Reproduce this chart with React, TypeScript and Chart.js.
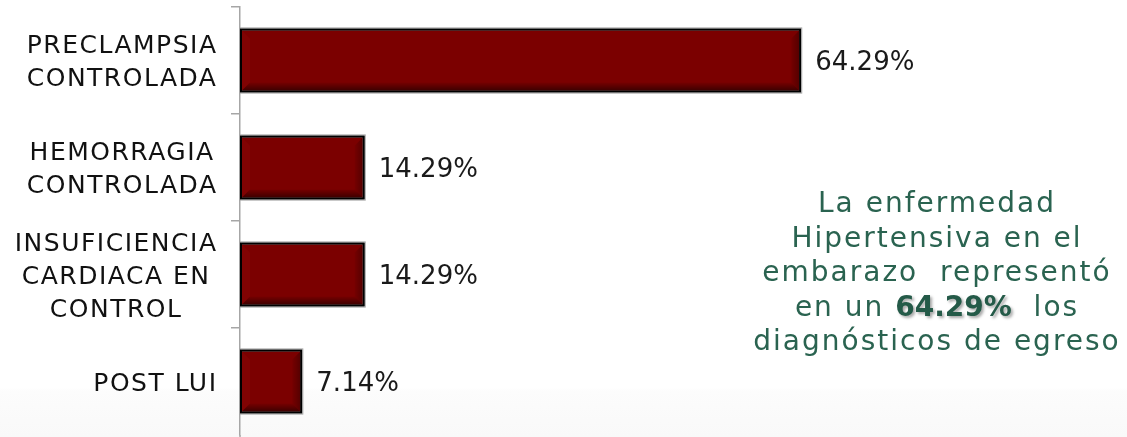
import React, { useEffect, useRef } from "react";
import { Chart, registerables } from "chart.js";

Chart.register(...registerables);

const categories: string[][] = [
  ["PRECLAMPSIA", "CONTROLADA"],
  ["HEMORRAGIA", "CONTROLADA"],
  ["INSUFICIENCIA", "CARDIACA EN", "CONTROL"],
  ["POST LUI"],
];
const values: number[] = [64.29, 14.29, 14.29, 7.14];
const valueLabels: string[] = ["64.29%", "14.29%", "14.29%", "7.14%"];

const FONT = '"DejaVu Sans", sans-serif';

const barStylePlugin = {
  id: "barStyle",
  afterDatasetsDraw(chart: any) {
    const ctx = chart.ctx;
    const meta = chart.getDatasetMeta(0);
    meta.data.forEach((el: any) => {
      const p = el.getProps(["x", "y", "base", "height"], true);
      const l = Math.min(p.base, p.x);
      const r = Math.max(p.base, p.x);
      const t = p.y - p.height / 2;
      const bm = p.y + p.height / 2;
      const il = l + 2, ir = r - 2, it = t + 2, ib = bm - 2;
      const b = 8;
      ctx.save();
      ctx.beginPath();
      ctx.moveTo(il, it); ctx.lineTo(il + b, it + b); ctx.lineTo(il + b, ib - b); ctx.lineTo(il, ib); ctx.closePath();
      ctx.fillStyle = "rgba(255,60,60,0.05)";
      ctx.fill();
      ctx.beginPath();
      ctx.moveTo(ir, it); ctx.lineTo(ir - b, it + b); ctx.lineTo(ir - b, ib - b); ctx.lineTo(ir, ib); ctx.closePath();
      const gr = ctx.createLinearGradient(ir - b, 0, ir, 0);
      gr.addColorStop(0, "rgba(0,0,0,0.05)");
      gr.addColorStop(1, "rgba(0,0,0,0.3)");
      ctx.fillStyle = gr;
      ctx.fill();
      ctx.beginPath();
      ctx.moveTo(il, ib); ctx.lineTo(il + b, ib - b); ctx.lineTo(ir - b, ib - b); ctx.lineTo(ir, ib); ctx.closePath();
      const g = ctx.createLinearGradient(0, ib - b, 0, ib);
      g.addColorStop(0, "rgba(0,0,0,0.05)");
      g.addColorStop(1, "rgba(0,0,0,0.5)");
      ctx.fillStyle = g;
      ctx.fill();
      ctx.strokeStyle = "#000000";
      ctx.lineWidth = 2;
      ctx.strokeRect(l + 1, t + 1, r - l - 2, bm - t - 2);
      ctx.strokeStyle = "#a6a6a6";
      ctx.lineWidth = 1;
      ctx.strokeRect(l - 0.5, t - 0.5, r - l + 1, bm - t + 1);
      ctx.restore();
    });
  },
};

const labelsPlugin = {
  id: "labelsDraw",
  afterDraw(chart: any) {
    const ctx = chart.ctx;
    const yScale = chart.scales.y;
    ctx.save();
    ctx.strokeStyle = "#a6a6a6";
    ctx.lineWidth = 1.5;
    ctx.beginPath();
    ctx.moveTo(chart.chartArea.left, chart.chartArea.bottom);
    ctx.lineTo(chart.chartArea.left, chart.height);
    ctx.stroke();

    const fs = 25;
    const ls = 1.5;
    ctx.font = `${fs}px ${FONT}`;
    (ctx as any).letterSpacing = `${ls}px`;
    ctx.fillStyle = "#111111";
    ctx.textAlign = "left";
    ctx.textBaseline = "alphabetic";
    const rightEdge = 216;
    const lineH = 33;
    categories.forEach((lines, i) => {
      const cy = yScale.getPixelForTick(i);
      const widths = lines.map((s) => ctx.measureText(s).width - ls);
      const blockW = Math.max(...widths);
      const blockL = rightEdge - blockW;
      lines.forEach((s, k) => {
        const capCenter = cy + (k - (lines.length - 1) / 2) * lineH;
        const x = blockL + (blockW - widths[k]) / 2;
        ctx.fillText(s, x, capCenter + 0.365 * fs);
      });
    });
    const vs = 26;
    ctx.font = `${vs}px ${FONT}`;
    (ctx as any).letterSpacing = "0px";
    ctx.fillStyle = "#1a1a1a";
    const meta = chart.getDatasetMeta(0);
    meta.data.forEach((el: any, i: number) => {
      const p = el.getProps(["x", "y"], true);
      ctx.fillText(valueLabels[i], p.x + 14, p.y + 0.365 * vs);
    });
    ctx.restore();
  },
};

export default function App() {
  const ref = useRef<HTMLCanvasElement>(null);
  useEffect(() => {
    if (!ref.current) return;
    const chart = new Chart(ref.current, {
      type: "bar",
      data: {
        labels: categories as any,
        datasets: [
          {
            data: values,
            backgroundColor: "#7b0000",
            borderColor: "#000000",
            borderWidth: 2,
            borderSkipped: false,
            categoryPercentage: 0.6,
            barPercentage: 1,
          },
        ],
      },
      options: {
        indexAxis: "y",
        responsive: false,
        maintainAspectRatio: false,
        animation: false,
        layout: { padding: { top: 7, right: 14, bottom: 2, left: 0 } },
        plugins: { legend: { display: false }, tooltip: { enabled: false } },
        scales: {
          x: { display: false, min: 0, max: 100 },
          y: {
            afterFit: (s: any) => {
              s.width = 240;
            },
            ticks: { display: false },
            grid: {
              offset: true,
              drawOnChartArea: false,
              drawTicks: true,
              tickLength: 9,
              color: (c: any) => (c.type === "tick" ? "#a6a6a6" : "rgba(0,0,0,0)"),
              lineWidth: 1.5,
            },
            border: { color: "#a6a6a6", width: 1.5 },
          },
        },
      },
      plugins: [barStylePlugin, labelsPlugin],
    });
    return () => chart.destroy();
  }, []);

  return (
    <div
      style={{
        position: "fixed",
        left: 0,
        top: 0,
        width: 1127,
        height: 437,
        background: "linear-gradient(to bottom, #ffffff 0px, #ffffff 388px, #fcfcfc 391px, #f9f9f9 437px)",
        overflow: "hidden",
      }}
    >
      <canvas ref={ref} width={1127} height={437} style={{ position: "absolute", left: 0, top: 0 }} />
      <div
        style={{
          position: "absolute",
          left: 737,
          width: 400,
          top: 186,
          textAlign: "center",
          fontFamily: FONT,
          fontSize: 28,
          lineHeight: "34.5px",
          letterSpacing: "2px",
          color: "#2a6350",
          whiteSpace: "pre",
        }}
      >
        <div>La enfermedad</div>
        <div>Hipertensiva en el</div>
        <div>embarazo  representó</div>
        <div>
          en un{" "}
          <span style={{ fontWeight: "bold", color: "#245a48", textShadow: "2px 2px 3px rgba(0,0,0,0.35)", letterSpacing: "0px" }}>
            64.29%
          </span>
          {"  "}los
        </div>
        <div>diagnósticos de egreso</div>
      </div>
    </div>
  );
}
